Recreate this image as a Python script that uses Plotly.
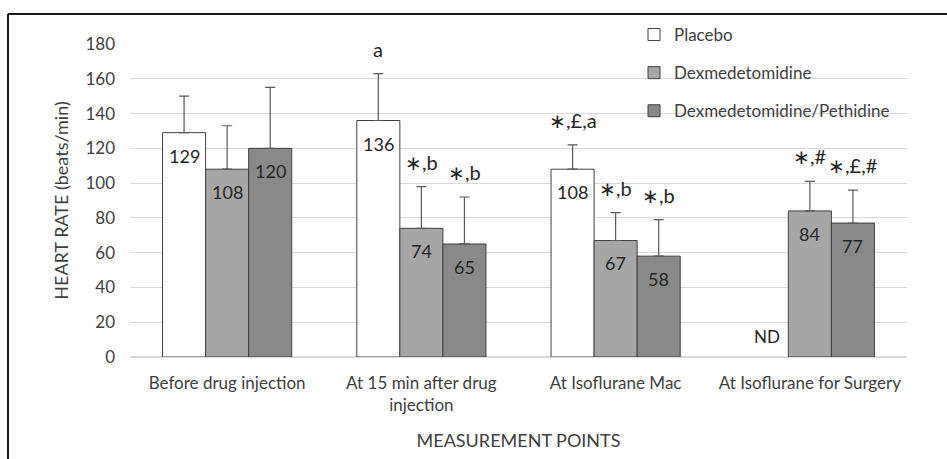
import plotly.graph_objects as go

categories = ["Before drug injection", "At 15 min after drug<br>injection",
              "At Isoflurane Mac", "At Isoflurane for Surgery"]
series_names = ["Placebo", "Dexmedetomidine", "Dexmedetomidine/Pethidine"]

placebo = [129, 136, 108, None]
dex = [108, 74, 67, 84]
dexpeth = [120, 65, 58, 77]

placebo_err = [21, 27, 14, None]
dex_err = [25, 24, 16, 17]
dexpeth_err = [35, 27, 21, 19]

placebo_sig = ["", "a", "∗,£,a", ""]
dex_sig = ["", "∗,b", "∗,b", "∗,#"]
dexpeth_sig = ["", "∗,b", "∗,b", "∗,£,#"]

values = [placebo, dex, dexpeth]
errors = [placebo_err, dex_err, dexpeth_err]
sigs = [placebo_sig, dex_sig, dexpeth_sig]
fills = ["#ffffff", "#a6a6a6", "#898989"]
FONT = "Lato"
TXT = "#404040"

fig = go.Figure()
for i, name in enumerate(series_names):
    fig.add_trace(go.Bar(
        name=name, x=categories, y=values[i],
        marker=dict(color=fills[i], line=dict(color="#404040", width=1)),
        error_y=dict(type="data", array=errors[i], symmetric=False,
                     arrayminus=[0] * 4, color="#595959", thickness=1.2, width=5),
        legendgroup=name,
    ))

shifts = [-43, 0, 43]
for i in range(3):
    for j, cat in enumerate(categories):
        v = values[i][j]
        if v is None:
            continue
        # value label inside bar top
        fig.add_annotation(x=cat, y=v, xshift=shifts[i], yshift=-10,
                           yanchor="top", text=str(v), showarrow=False,
                           font=dict(family=FONT, size=18, color="#262626"))
        if sigs[i][j]:
            top = v + errors[i][j]
            fig.add_annotation(x=cat, y=top, xshift=shifts[i], yshift=11,
                               yanchor="bottom", text=sigs[i][j], showarrow=False,
                               font=dict(family=FONT, size=20, color="#262626"))

fig.add_annotation(x=categories[3], y=0, xshift=-43, yshift=8, yanchor="bottom",
                   text="ND", showarrow=False,
                   font=dict(family=FONT, size=17, color="#262626"))

# frame lines (top and left)
L, T, W, H = 130, 44, 777, 313
def px2x(px):
    return (px - L) / W
def py2y(py):
    return (T + H - py) / H
fig.add_shape(type="line", xref="paper", yref="paper", x0=px2x(8), x1=px2x(947),
              y0=py2y(14), y1=py2y(14), line=dict(color="#1a1a1a", width=2))
fig.add_shape(type="line", xref="paper", yref="paper", x0=px2x(8), x1=px2x(8),
              y0=py2y(14), y1=py2y(460), line=dict(color="#1a1a1a", width=2))

fig.update_layout(
    width=947, height=459,
    margin=dict(l=L, r=947 - L - W, t=T, b=459 - T - H),
    paper_bgcolor="white", plot_bgcolor="white",
    barmode="group", bargap=0.335, bargroupgap=0,
    font=dict(family=FONT, size=17, color=TXT),
    showlegend=True,
    legend=dict(x=px2x(634), y=py2y(17), xanchor="left", yanchor="top",
                bgcolor="rgba(0,0,0,0)", tracegroupgap=13, traceorder="grouped",
                font=dict(family=FONT, size=17, color=TXT),
                itemwidth=30),
    xaxis=dict(showline=False, ticks="", tickfont=dict(size=17, color=TXT),
               ticklabelstandoff=14,
               title=dict(text="MEASUREMENT POINTS", font=dict(size=18, color=TXT),
                          standoff=20)),
    yaxis=dict(range=[0, 180], dtick=20, showgrid=True, gridcolor="#d9d9d9",
               gridwidth=1, zeroline=True, zerolinecolor="#d9d9d9", showline=False,
               ticks="", tickfont=dict(size=17, color=TXT), ticklabelstandoff=14,
               title=dict(text="HEART RATE (beats/min)", font=dict(size=18, color=TXT),
                          standoff=12)),
)

fig.write_html("out.html")
